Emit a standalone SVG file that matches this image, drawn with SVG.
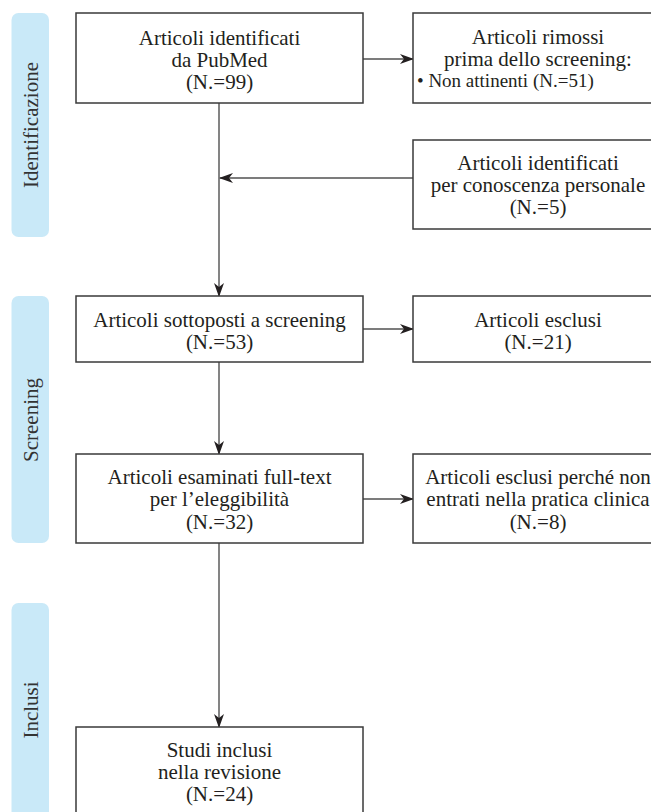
<svg xmlns="http://www.w3.org/2000/svg" width="651" height="812" viewBox="0 0 651 812">
<defs>
<style>
.box{fill:#fff;stroke:#3a3a3a;stroke-width:1.5}
.lane{fill:#c9e9f8}
.t{font-family:"Liberation Serif","Times New Roman",serif;font-size:21px;fill:#231f20;text-anchor:middle}
.s{font-family:"Liberation Serif","Times New Roman",serif;font-size:19px;fill:#231f20}
.lt{font-family:"Liberation Serif","Times New Roman",serif;font-size:21px;fill:#333;text-anchor:middle}
.c{fill:none;stroke:#505050;stroke-width:1.4}
</style>
<marker id="ah" viewBox="0 0 14 10" refX="13" refY="5" markerWidth="14" markerHeight="10" markerUnits="userSpaceOnUse" orient="auto">
<path d="M0,0 L14,5 L0,10 L4,5 Z" fill="#231f20"/>
</marker>
</defs>
<rect width="651" height="812" fill="#fff"/>
<g id="lane-identificazione">
<rect class="lane" x="11.5" y="13" width="37.5" height="224" rx="7"/>
<text class="lt" transform="translate(38 125) rotate(-90)">Identificazione</text>
</g>
<g id="lane-screening">
<rect class="lane" x="11.5" y="296" width="37.5" height="247" rx="7"/>
<text class="lt" transform="translate(38 420) rotate(-90)">Screening</text>
</g>
<g id="lane-inclusi">
<rect class="lane" x="11.5" y="603" width="37.5" height="220" rx="7"/>
<text class="lt" transform="translate(38 710) rotate(-90)">Inclusi</text>
</g>
<g id="connectors">
<line class="c" x1="363" y1="59" x2="413" y2="59" marker-end="url(#ah)"/>
<line class="c" x1="219" y1="103" x2="219" y2="296" marker-end="url(#ah)"/>
<line class="c" x1="413" y1="178" x2="220" y2="178" marker-end="url(#ah)"/>
<line class="c" x1="363" y1="329" x2="413" y2="329" marker-end="url(#ah)"/>
<line class="c" x1="219" y1="362" x2="219" y2="454" marker-end="url(#ah)"/>
<line class="c" x1="363" y1="499" x2="413" y2="499" marker-end="url(#ah)"/>
<line class="c" x1="219" y1="543" x2="219" y2="727" marker-end="url(#ah)"/>
</g>
<g id="n-pubmed">
<rect class="box" x="76" y="13" width="287" height="90"/>
<text class="t" x="219.5" y="45">Articoli identificati</text>
<text class="t" x="219.5" y="67">da PubMed</text>
<text class="t" x="219.5" y="89">(N.=99)</text>
</g>
<g id="n-rimossi">
<rect class="box" x="413" y="13" width="270" height="90"/>
<text class="t" x="538" y="44">Articoli rimossi</text>
<text class="t" x="538" y="66">prima dello screening:</text>
<text class="s" x="417" y="87">• Non attinenti (N.=51)</text>
</g>
<g id="n-personale">
<rect class="box" x="413" y="140" width="270" height="89"/>
<text class="t" x="538" y="170">Articoli identificati</text>
<text class="t" x="538" y="192">per conoscenza personale</text>
<text class="t" x="538" y="214">(N.=5)</text>
</g>
<g id="n-sottoposti">
<rect class="box" x="76" y="296" width="287" height="66"/>
<text class="t" x="219.5" y="327">Articoli sottoposti a screening</text>
<text class="t" x="219.5" y="349">(N.=53)</text>
</g>
<g id="n-esclusi">
<rect class="box" x="413" y="296" width="270" height="66"/>
<text class="t" x="538" y="327">Articoli esclusi</text>
<text class="t" x="538" y="349">(N.=21)</text>
</g>
<g id="n-fulltext">
<rect class="box" x="76" y="454" width="287" height="89"/>
<text class="t" x="219.5" y="484">Articoli esaminati full-text</text>
<text class="t" x="219.5" y="506">per l’eleggibilità</text>
<text class="t" x="219.5" y="529">(N.=32)</text>
</g>
<g id="n-clinica">
<rect class="box" x="413" y="454" width="270" height="89"/>
<text class="t" x="538" y="484">Articoli esclusi perché non</text>
<text class="t" x="538" y="506">entrati nella pratica clinica</text>
<text class="t" x="538" y="529">(N.=8)</text>
</g>
<g id="n-inclusi">
<rect class="box" x="76" y="727" width="287" height="100"/>
<text class="t" x="219.5" y="757">Studi inclusi</text>
<text class="t" x="219.5" y="779">nella revisione</text>
<text class="t" x="219.5" y="801">(N.=24)</text>
</g>
</svg>
